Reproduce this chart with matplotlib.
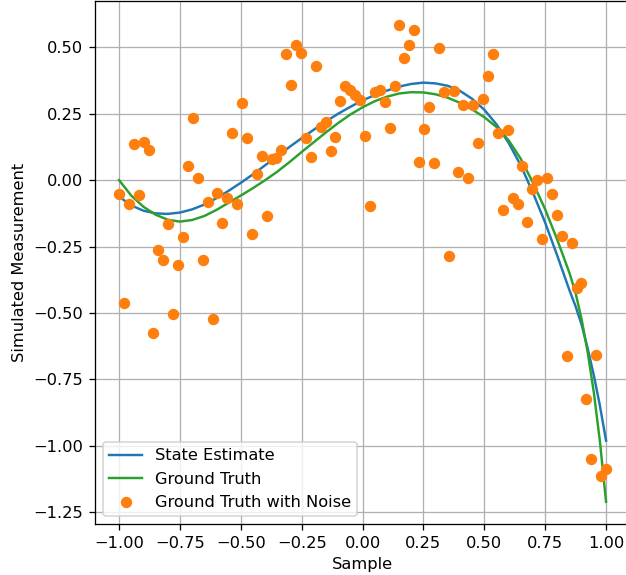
import numpy as np
import matplotlib
matplotlib.use("Agg")
import matplotlib.pyplot as plt

# Sample positions of the noisy measurements
sample_x = np.linspace(-1.0, 1.0, 100)

noisy_y = [
    -0.051, -0.464, -0.091, 0.136, -0.056, 0.144, 0.112, -0.577, -0.264, -0.299,
    -0.164, -0.503, -0.319, -0.215, 0.052, 0.233, 0.007, -0.299, -0.081, -0.524,
    -0.050, -0.161, -0.067, 0.179, -0.089, 0.290, 0.160, -0.204, 0.022, 0.091,
    -0.136, 0.080, 0.083, 0.113, 0.475, 0.359, 0.508, 0.479, 0.159, 0.086,
    0.429, 0.201, 0.218, 0.111, 0.163, 0.297, 0.354, 0.338, 0.320, 0.303,
    0.166, -0.099, 0.330, 0.341, 0.294, 0.197, 0.353, 0.585, 0.461, 0.509,
    0.564, 0.069, 0.191, 0.277, 0.064, 0.498, 0.332, -0.287, 0.335, 0.032,
    0.284, 0.008, 0.284, 0.141, 0.305, 0.392, 0.475, 0.176, -0.111, 0.189,
    -0.068, -0.090, 0.055, -0.159, -0.035, 0.000, -0.222, 0.008, -0.052, -0.132,
    -0.211, -0.661, -0.238, -0.407, -0.388, -0.825, -1.048, -0.657, -1.112, -1.086,
]

# Curve sample positions
curve_x = [
    -1.00, -0.95, -0.90, -0.85, -0.80, -0.75, -0.70, -0.65, -0.60, -0.55,
    -0.50, -0.45, -0.40, -0.35, -0.30, -0.25, -0.20, -0.15, -0.10, -0.05,
    0.00, 0.05, 0.10, 0.15, 0.20, 0.25, 0.30, 0.35, 0.40, 0.45,
    0.50, 0.55, 0.60, 0.65, 0.70, 0.75, 0.80, 0.85, 0.875, 0.90, 0.925,
    0.95, 0.975, 1.00,
]

# State estimate curve values
estimate_y = [
    -0.062, -0.095, -0.115, -0.125, -0.127, -0.122, -0.110, -0.092, -0.068, -0.040,
    -0.010, 0.022, 0.056, 0.090, 0.125, 0.158, 0.190, 0.221, 0.250, 0.276,
    0.300, 0.320, 0.337, 0.352, 0.362, 0.367, 0.364, 0.355, 0.336, 0.306,
    0.265, 0.210, 0.140, 0.055, -0.048, -0.160, -0.285, -0.415, -0.475, -0.545, -0.635,
    -0.735, -0.850, -0.980,
]

# Ground truth curve values
truth_y = [
    0.000, -0.058, -0.100, -0.130, -0.149, -0.156, -0.150, -0.135, -0.112, -0.085,
    -0.058, -0.030, 0.000, 0.032, 0.068, 0.106, 0.143, 0.180, 0.215, 0.247,
    0.274, 0.297, 0.314, 0.326, 0.331, 0.330, 0.323, 0.310, 0.291, 0.266,
    0.237, 0.200, 0.150, 0.080, -0.010, -0.110, -0.225, -0.350, -0.425, -0.525, -0.650,
    -0.800, -0.985, -1.210,
]

DPI = 117
fig = plt.figure(figsize=(626 / DPI, 575 / DPI), dpi=DPI)
ax = fig.add_axes([94.7 / 626, (575 - 524.3) / 575, (630.4 - 94.7) / 626, (524.3 - 0.5) / 575])

ax.plot(curve_x, estimate_y, color="tab:blue", label="State Estimate")
ax.plot(curve_x, truth_y, color="tab:green", label="Ground Truth")
ax.scatter(sample_x, noisy_y, color="tab:orange", label="Ground Truth with Noise", zorder=3)

ax.set_xlim(-1.1, 1.1)
ax.set_ylim(-1.295, 0.676)
ax.set_xticks([-1.0, -0.75, -0.5, -0.25, 0.0, 0.25, 0.5, 0.75, 1.0])
ax.set_yticks([-1.25, -1.0, -0.75, -0.5, -0.25, 0.0, 0.25, 0.5])
ax.grid(True)
ax.set_xlabel("Sample")
ax.set_ylabel("Simulated Measurement")
ax.legend(loc="lower left")

fig.savefig("out.png", dpi=DPI)
